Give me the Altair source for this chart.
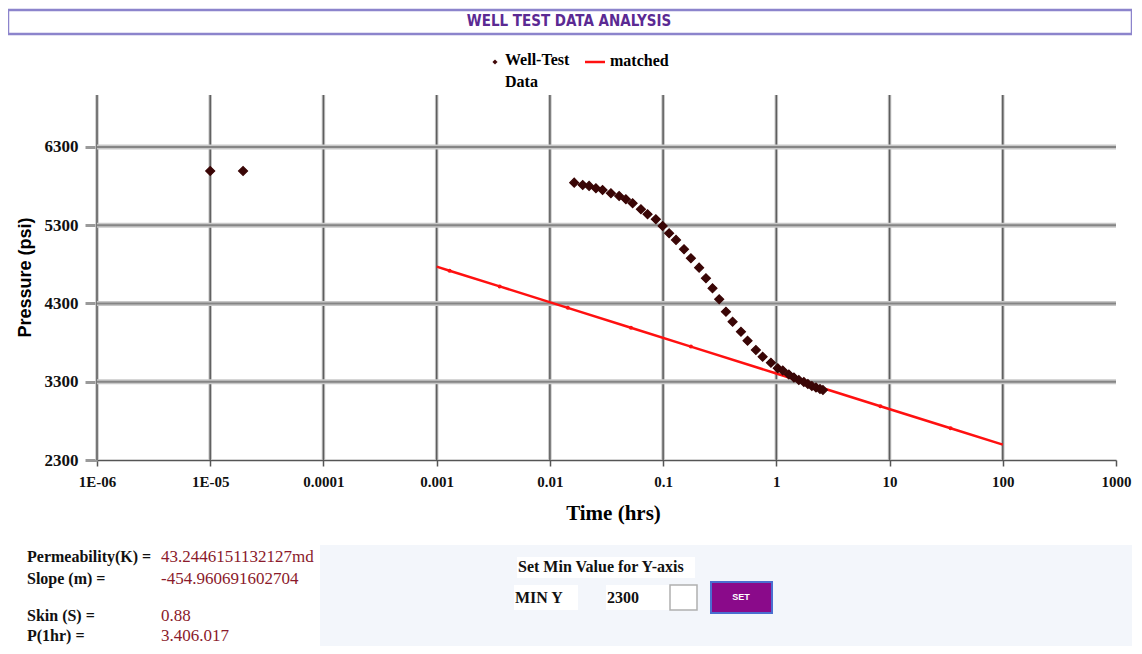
import json
import altair as alt
import pandas as pd

# ---------------- data ----------------
early_t = [1.0e-5, 1.95e-5]
early_p = [5993, 5993]

cluster_t = [0.0164, 0.0195, 0.0222, 0.0255, 0.0292, 0.0346, 0.0409, 0.0469, 0.0538,
             0.0637, 0.0729, 0.0863, 0.0991, 0.113, 0.130, 0.153, 0.176, 0.208, 0.239,
             0.273, 0.313, 0.359, 0.411, 0.487, 0.557, 0.660, 0.757, 0.896, 1.03, 1.14,
             1.29, 1.43, 1.58, 1.75, 1.90, 2.06, 2.24, 2.43, 2.58]
cluster_p = [5844, 5814, 5802, 5772, 5750, 5708, 5674, 5632, 5581, 5504, 5440, 5376,
             5290, 5197, 5112, 4993, 4878, 4758, 4622, 4494, 4354, 4195, 4067, 3939,
             3824, 3706, 3620, 3543, 3472, 3444, 3393, 3354, 3322, 3297, 3271, 3246,
             3227, 3207, 3195]

match_t = [0.001, 0.0013, 0.0036, 0.0144, 0.052, 0.176, 1.0, 8.3, 34.6, 100]
match_p = [4771, 4719, 4518, 4244, 3990, 3749, 3406, 2987, 2706, 2496]
match_bump = [False, True, True, True, True, True, False, True, True, False]

x_ticks = [1e-6, 1e-5, 1e-4, 1e-3, 1e-2, 1e-1, 1, 10, 100, 1000]
x_tick_labels = ["1E-06", "1E-05", "0.0001", "0.001", "0.01", "0.1", "1", "10", "100", "1000"]
x_grid = [1e-6, 1e-5, 1e-4, 1e-3, 1e-2, 1e-1, 1, 10, 100]
y_ticks = [2300, 3300, 4300, 5300, 6300]
y_grid = [3300, 4300, 5300, 6300]

title_text = "WELL TEST DATA ANALYSIS"
legend_labels = ["Well-Test", "Data", "matched"]
info_labels = ["Permeability(K) =", "Slope (m) =", "Skin (S) =", "P(1hr) ="]
info_values = ["43.2446151132127md", "-454.960691602704", "0.88", "3.406.017"]
ctrl_texts = ["Set Min Value for Y-axis", "MIN Y", "2300", "SET"]

# ---------------- chart ----------------
W, H = 1019, 365
SERIF = "Liberation Serif, Times New Roman, serif"
SANS = "Liberation Sans, Arial, sans-serif"
NARROW = "Liberation Sans Narrow, DejaVu Sans Condensed, Arial Narrow, sans-serif"

df_pts = pd.DataFrame({"t": early_t + cluster_t, "p": early_p + cluster_p})
df_match = pd.DataFrame({"t": match_t, "p": match_p, "bump": match_bump})
df_bump = df_match[df_match["bump"]]
df_xg = pd.DataFrame({"t": x_grid})
df_yg = pd.DataFrame({"p": y_grid})
one = alt.Data(values=[{}])

label_expr = json.dumps(x_tick_labels) + "[round(log(datum.value)/LN10)+6]"

xscale = alt.Scale(type="log", domain=[1e-6, 1000], nice=False)
yscale = alt.Scale(domain=[2300, 6964], nice=False, zero=False)

x_axis = alt.Axis(values=x_ticks, labelExpr=label_expr, title="Time (hrs)",
                  titleFont=SERIF, titleFontSize=21, titleFontWeight="bold", titleColor="#000",
                  titleX=516, titleY=53, titleBaseline="middle",
                  labelFont=SERIF, labelFontSize=15, labelFontWeight="bold", labelColor="#111",
                  labelPadding=8, labelFlush=False, labelOverlap=False,
                  tickSize=6, tickColor="#555", tickWidth=1.5,
                  domainColor="#555", domainWidth=1.5, grid=False)
y_axis = alt.Axis(values=y_ticks, format="d", title="Pressure (psi)",
                  titleFont=SANS, titleFontSize=18, titleFontWeight="bold", titleColor="#000",
                  titleX=-72, titleY=182, titleBaseline="middle",
                  labelFont=SERIF, labelFontSize=17, labelFontWeight="bold", labelColor="#111",
                  labelPadding=7, labelOverlap=False,
                  tickSize=12, tickColor="#9a9a9a", tickWidth=3, domain=False, grid=False)

X = alt.X("t:Q", scale=xscale, axis=x_axis)
Y = alt.Y("p:Q", scale=yscale, axis=y_axis)


def rect(x1, x2, y1, y2, fill, stroke=None, sw=0):
    kw = dict(fill=fill)
    if stroke:
        kw.update(stroke=stroke, strokeWidth=sw)
    return alt.Chart(one).mark_rect(**kw).encode(
        x=alt.value(x1), x2=alt.value(x2), y=alt.value(y1), y2=alt.value(y2))


def text(x, y, s, size=15, color="#000", font=SERIF, weight="bold", align="left"):
    return alt.Chart(one).mark_text(align=align, baseline="middle", font=font, fontSize=size,
                                    fontWeight=weight, color=color).encode(
        x=alt.value(x), y=alt.value(y), text=alt.value(s))


layers = []
# bottom panel
layers.append(rect(-89, 1045, 450, 560, "#f3f6fb"))
layers.append(rect(-89, 223, 450, 560, "#ffffff"))
# title box
layers.append(rect(-89, 1035, -85, -61, "#ffffff", "#8c84cc", 2.5))
layers.append(text(472, -74, title_text, size=15, color="#5b2a93", font=NARROW, weight="bold", align="center"))

# grid lines
layers.append(alt.Chart(df_xg).mark_rule(color="#c4c4c4", strokeWidth=3.5).encode(x=X))
layers.append(alt.Chart(df_xg).mark_rule(color="#5e5e5e", strokeWidth=1.5).encode(x=X))
layers.append(alt.Chart(df_yg).mark_rule(color="#c8c8c8", strokeWidth=5).encode(y=Y))
layers.append(alt.Chart(df_yg).mark_rule(color="#858585", strokeWidth=2).encode(y=Y))

# matched line
layers.append(alt.Chart(df_match).mark_line(color="#ff1010", strokeWidth=2.5).encode(x=X, y=Y))
layers.append(alt.Chart(df_bump).mark_point(shape="circle", filled=True, color="#ff1010",
                                            size=16, opacity=1).encode(x=X, y=Y))
# data points
layers.append(alt.Chart(df_pts).mark_point(shape="diamond", filled=True, color="#3a0606",
                                           stroke="#3a0606", strokeWidth=1.2,
                                           size=80, opacity=1).encode(x=X, y=Y))

# legend
layers.append(alt.Chart(one).mark_point(shape="diamond", filled=True, color="#400808", size=26,
                                        opacity=1).encode(x=alt.value(398), y=alt.value(-33)))
layers.append(text(408, -35, legend_labels[0], size=16))
layers.append(text(408, -13, legend_labels[1], size=16))
layers.append(alt.Chart(one).mark_rule(color="#ff1010", strokeWidth=2.5).encode(
    x=alt.value(488), x2=alt.value(508), y=alt.value(-33)))
layers.append(text(513, -34, legend_labels[2], size=16))

# info texts
rows_y = [462, 484, 521, 541]
for lab, val, yy in zip(info_labels, info_values, rows_y):
    layers.append(text(-70, yy, lab, size=16, color="#111"))
    layers.append(text(64, yy, val, size=17, color="#8b1a2b", weight="normal"))

# controls
layers.append(rect(420, 598, 462, 483, "#ffffff"))
layers.append(text(421, 472, ctrl_texts[0], size=16, color="#111"))
layers.append(rect(417, 481, 490, 515, "#ffffff"))
layers.append(text(418, 503, ctrl_texts[1], size=16, color="#111"))
layers.append(rect(509, 573, 490, 515, "#ffffff"))
layers.append(text(510, 503, ctrl_texts[2], size=16, color="#111"))
layers.append(rect(573, 600, 490, 515, "#ffffff", "#b0b0b0", 1.5))
layers.append(rect(614, 675, 487, 518, "#8a0a8a", "#4a6fd0", 2))
layers.append(text(644, 502, ctrl_texts[3], size=9, color="#ffffff", font=SANS, align="center"))

chart = alt.layer(*layers).properties(
    width=W, height=H,
    autosize=alt.AutoSizeParams(type="none"),
    padding={"left": 89, "top": 87, "right": 16, "bottom": 186},
    background="#ffffff",
).configure_view(stroke=None)

chart.save("out.html", embed_options={"renderer": "svg", "actions": False})
